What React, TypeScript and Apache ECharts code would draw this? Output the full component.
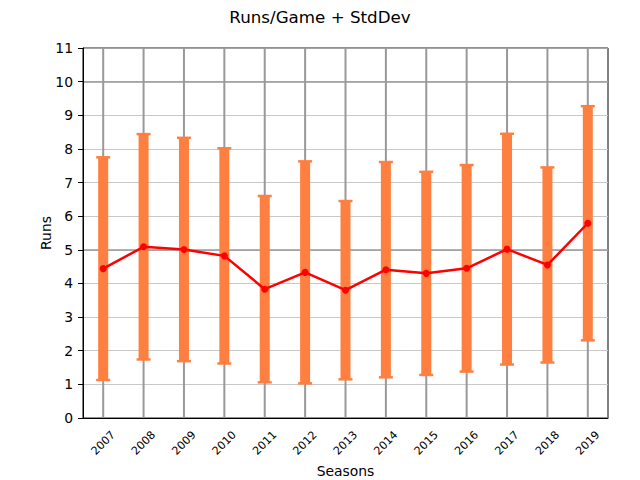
import { useEffect, useRef } from 'react';
import * as echarts from 'echarts';

// Temporadas en el eje X
const seasons = ['2007', '2008', '2009', '2010', '2011', '2012', '2013', '2014', '2015', '2016', '2017', '2018', '2019'];

// Carreras por juego (media) y desviación estándar
const runsPerGame = [4.44, 5.09, 5.01, 4.82, 3.83, 4.33, 3.8, 4.41, 4.3, 4.45, 5.02, 4.55, 5.79];
const stdDev = [3.31, 3.35, 3.32, 3.2, 2.77, 3.3, 2.65, 3.2, 3.02, 3.07, 3.43, 2.9, 3.48];

const ORANGE = '#ff7f40';
const FONT = 'DejaVu Sans';

export default function App() {
  const ref = useRef<HTMLDivElement>(null);

  useEffect(() => {
    if (!ref.current) return;
    const chart = echarts.init(ref.current, undefined, { renderer: 'svg' });

    const errorData = seasons.map((_, i) => [i, runsPerGame[i] - stdDev[i], runsPerGame[i] + stdDev[i]]);

    chart.setOption({
      animation: false,
      backgroundColor: '#ffffff',
      textStyle: { fontFamily: FONT },
      title: {
        text: 'Runs/Game + StdDev',
        left: 'center',
        top: 3,
        textStyle: { fontFamily: FONT, fontSize: 16.7, fontWeight: 'normal', color: '#000' },
      },
      grid: {
        left: 83,
        right: 32,
        top: 48,
        bottom: 62,
        outerBoundsMode: 'none',
        containLabel: false,
        show: true,
        borderColor: '#000',
        borderWidth: 1,
        backgroundColor: '#fff',
      },
      xAxis: {
        type: 'category',
        data: seasons,
        name: 'Seasons',
        nameLocation: 'middle',
        nameGap: 46,
        nameMoveOverlap: false,
        nameTextStyle: { fontFamily: FONT, fontSize: 13.9, color: '#000' },
        axisLine: { lineStyle: { color: '#000', width: 1 } },
        axisTick: { alignWithLabel: true, length: 5, lineStyle: { color: '#000' } },
        axisLabel: {
          rotate: 45,
          align: 'center',
          verticalAlign: 'middle',
          margin: 25,
          fontFamily: FONT,
          fontSize: 11.1,
          color: '#000',
        },
        splitLine: { show: false },
      },
      yAxis: [
        {
          type: 'value',
          min: 0,
          max: 11,
          interval: 1,
          name: 'Runs',
          nameLocation: 'middle',
          nameGap: 30,
          nameMoveOverlap: false,
          nameTextStyle: { fontFamily: FONT, fontSize: 13.9, color: '#000' },
          axisLine: { show: true, lineStyle: { color: '#000' } },
          axisTick: { show: true, length: 5, lineStyle: { color: '#000' } },
          axisLabel: { margin: 10, fontFamily: FONT, fontSize: 13.9, color: '#000' },
          splitLine: { show: true, lineStyle: { color: '#c8c8c8', width: 1 } },
        },
        {
          type: 'value',
          min: 0,
          max: 11,
          interval: 5,
          position: 'left',
          axisLine: { show: false },
          axisTick: { show: false },
          axisLabel: { show: false },
          splitLine: { show: true, lineStyle: { color: '#999999', width: 1.6 } },
        },
      ],
      series: [
        {
          // líneas verticales de la cuadrícula
          type: 'custom',
          z: 1,
          silent: true,
          data: seasons.map((_, i) => [i, 0]),
          encode: { x: 0, y: 1 },
          renderItem: (params: any, api: any) => {
            const p = api.coord([api.value(0), 0]);
            const cs = params.coordSys;
            return {
              type: 'line',
              shape: { x1: p[0], y1: cs.y, x2: p[0], y2: cs.y + cs.height },
              style: { stroke: '#999999', lineWidth: 2 },
            };
          },
        },
        {
          // barras de error (media ± desviación)
          type: 'custom',
          z: 2,
          data: errorData,
          encode: { x: 0, y: [1, 2] },
          renderItem: (_params: any, api: any) => {
            const x = api.value(0);
            const lo = api.coord([x, api.value(1)]);
            const hi = api.coord([x, api.value(2)]);
            return {
              type: 'group',
              children: [
                {
                  type: 'rect',
                  shape: { x: lo[0] - 5, y: hi[1], width: 10, height: lo[1] - hi[1] },
                  style: { fill: ORANGE },
                },
                {
                  type: 'line',
                  shape: { x1: lo[0] - 7, y1: hi[1], x2: lo[0] + 7, y2: hi[1] },
                  style: { stroke: ORANGE, lineWidth: 2.5 },
                },
                {
                  type: 'line',
                  shape: { x1: lo[0] - 7, y1: lo[1], x2: lo[0] + 7, y2: lo[1] },
                  style: { stroke: ORANGE, lineWidth: 2.5 },
                },
              ],
            };
          },
        },
        {
          type: 'line',
          z: 3,
          data: runsPerGame,
          symbol: 'circle',
          symbolSize: 7,
          lineStyle: { color: '#ff0000', width: 2.5 },
          itemStyle: { color: '#ff0000' },
        },
      ],
    });

    return () => chart.dispose();
  }, []);

  return <div ref={ref} style={{ position: 'fixed', left: 0, top: 0, width: 640, height: 480 }} />;
}
